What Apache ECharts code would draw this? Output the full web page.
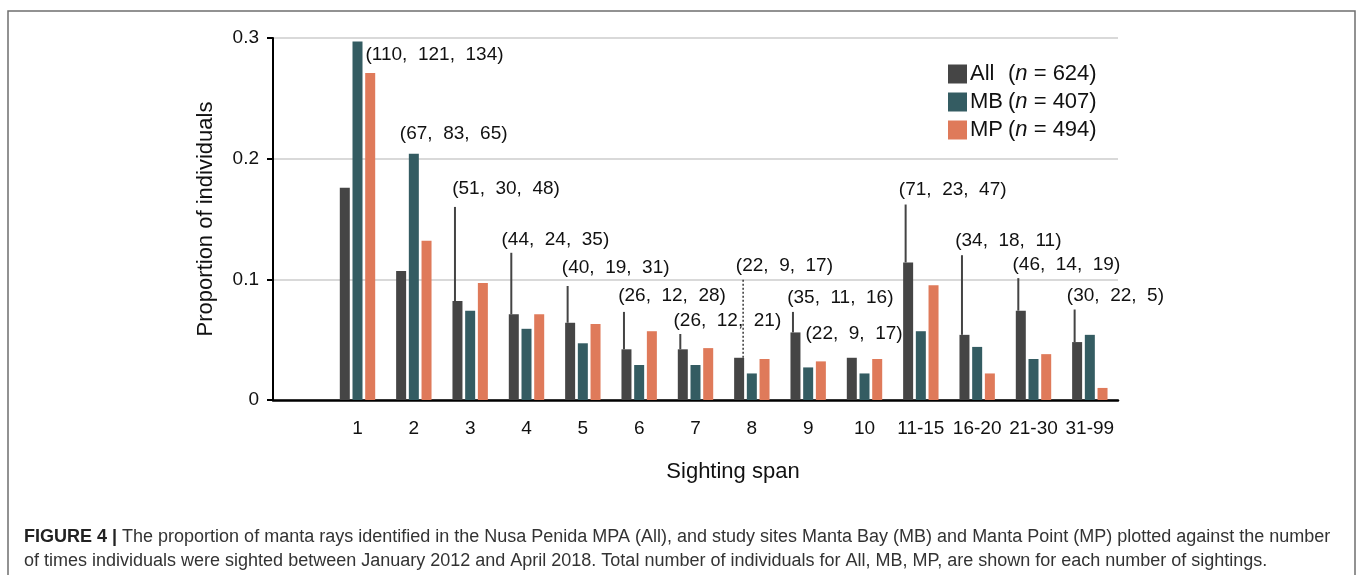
<!DOCTYPE html>
<html>
<head>
<meta charset="utf-8">
<script src="https://cdn.jsdelivr.net/npm/echarts@6/dist/echarts.min.js"></script>
<style>
html,body{margin:0;padding:0;background:#fff;}
#chart{width:1357px;height:575px;}
</style>
</head>
<body>
<div id="chart"></div>
<script>
// ---- data ----
const categories = ['1','2','3','4','5','6','7','8','9','10','11-15','16-20','21-30','31-99'];
const propAll = [0.176,0.107,0.082,0.071,0.064,0.042,0.042,0.035,0.056,0.035,0.114,0.054,0.074,0.048];
const propMB  = [0.297,0.204,0.074,0.059,0.047,0.029,0.029,0.022,0.027,0.022,0.057,0.044,0.034,0.054];
const propMP  = [0.271,0.132,0.097,0.071,0.063,0.057,0.043,0.034,0.032,0.034,0.095,0.022,0.038,0.010];
const countAll = [110,67,51,44,40,26,26,22,35,22,71,34,46,30];
const countMB  = [121,83,30,24,19,12,12,9,11,9,23,18,14,22];
const countMP  = [134,65,48,35,31,28,21,17,16,17,47,11,19,5];
const leaderTop = [null,null,0.160,0.122,0.0945,0.073,0.0547,0.101,0.073,null,0.162,0.120,0.101,0.075];
const labelLevel = [0.286,0.221,0.175,0.133,0.110,0.086,0.066,0.111,0.085,0.055,0.174,0.132,0.112,0.086];
const legendN = {All:624, MB:407, MP:494};
const yTicks = [0,0.1,0.2,0.3];

// ---- layout / style ----
const labelNudge = [8,-14,-18,-25,-21,-21,-22,-16,-21,-59,-22,-22,-21,-23];
const dottedLeader = ['8'];
const colors = {All:'#454545', MB:'#345c62', MP:'#df7a5a'};
const FONT = 'Liberation Sans, Arial, Helvetica, sans-serif';

const xCats = [''].concat(categories);
const pad = arr => [null].concat(arr);

const annoData = categories.map((c,i)=>[i+1, propAll[i], leaderTop[i]==null?NaN:leaderTop[i], labelLevel[i]]);

const chart = echarts.init(document.getElementById('chart'), null, {renderer:'canvas'});
chart.setOption({
  animation:false,
  backgroundColor:'#fff',
  textStyle:{fontFamily:FONT},
  grid:{left:273, right:239, top:38, bottom:175, containLabel:false},
  legend:{
    orient:'vertical', left:943, top:58, itemWidth:19, itemHeight:19, itemGap:6,
    icon:'rect', data:['All','MB','MP'],
    textStyle:{fontFamily:FONT, fontSize:22, color:'#111', padding:[0,0,0,-2],
      rich:{
        nm:{fontSize:22, width:38, fontFamily:FONT, color:'#111'},
        t:{fontSize:22, fontFamily:FONT, color:'#111'},
        i:{fontSize:22, fontStyle:'italic', fontFamily:FONT, color:'#111'}
      }},
    formatter: name => `{nm|${name}}{t|(}{i|n}{t| = ${legendN[name]})}`
  },
  xAxis:{
    type:'category', data:xCats,
    axisTick:{show:false},
    axisLine:{lineStyle:{color:'#000', width:2.5}},
    axisLabel:{fontSize:19, color:'#111', margin:19, interval:0, fontFamily:FONT}
  },
  yAxis:{
    type:'value', min:0, max:0.3, interval:0.1,
    name:'Proportion of individuals', nameLocation:'middle', nameGap:56,
    nameTextStyle:{fontSize:22, color:'#111', fontFamily:FONT},
    axisLine:{show:true, lineStyle:{color:'#000', width:2}},
    axisTick:{show:true, length:6, lineStyle:{color:'#000', width:2}},
    axisLabel:{fontSize:19, color:'#111', margin:14, fontFamily:FONT,
      formatter: v => { const t = yTicks.find(k=>Math.abs(k-v)<1e-9); return t===0?'0':t.toFixed(1); }},
    splitLine:{show:true, lineStyle:{color:'#d9d9d9', width:2}}
  },
  series:[
    {name:'All', type:'bar', data:pad(propAll), barWidth:10, barGap:'27%', itemStyle:{color:colors.All}},
    {name:'MB', type:'bar', data:pad(propMB), barWidth:10, barGap:'27%', itemStyle:{color:colors.MB}},
    {name:'MP', type:'bar', data:pad(propMP), barWidth:10, barGap:'27%', itemStyle:{color:colors.MP}},
    {
      type:'custom', name:'labels', data:annoData, z:5,
      renderItem:(params, api)=>{
        const idx = api.value(0);
        const k = idx-1;
        const base = api.coord([idx, 0]);
        const cx = base[0];
        const children = [];
        const lt = api.value(2);
        if (!isNaN(lt)) {
          const top = api.coord([idx, api.value(1)])[1];
          const ly = api.coord([idx, lt])[1];
          const dotted = dottedLeader.indexOf(categories[k])>=0;
          const lx = dotted ? cx-8.7 : cx-15.2;
          children.push({type:'line', shape:{x1:lx,y1:top,x2:lx,y2:ly},
            style:{stroke:'#444', lineWidth:dotted?1.6:2, lineDash:dotted?[2,2]:null}});
        }
        const ty = api.coord([idx, api.value(3)])[1];
        children.push({type:'text', x:cx+labelNudge[k], y:ty,
          style:{text:`(${countAll[k]},  ${countMB[k]},  ${countMP[k]})`, fill:'#111',
            font:`19px ${FONT}`, textAlign:'left', textVerticalAlign:'middle'}});
        return {type:'group', children};
      }
    }
  ],
  graphic:[
    {type:'rect', shape:{x:8, y:11, width:1347, height:620}, style:{fill:'none', stroke:'#6f6f6f', lineWidth:1.5}, silent:true},
    {type:'text', x:733, y:472, style:{text:'Sighting span', font:`22px ${FONT}`, fill:'#111', textAlign:'center', textVerticalAlign:'middle'}},
    {type:'text', x:24, y:549, style:{
      text:'{b|FIGURE 4 |} The proportion of manta rays identified in the Nusa Penida MPA (All), and study sites Manta Bay (MB) and Manta Point (MP) plotted against the number\nof times individuals were sighted between January 2012 and April 2018. Total number of individuals for All, MB, MP, are shown for each number of sightings.',
      font:`18px ${FONT}`, fill:'#333', lineHeight:24, textVerticalAlign:'middle',
      rich:{b:{fontWeight:'bold', fontSize:18, fontFamily:FONT, fill:'#222', lineHeight:24}}
    }}
  ]
});
</script>
</body>
</html>
